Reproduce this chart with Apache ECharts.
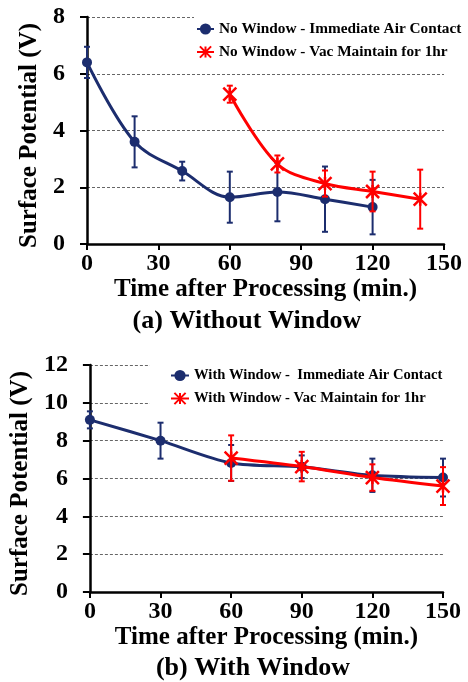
<!DOCTYPE html>
<html>
<head>
<meta charset="utf-8">
<script src="https://cdn.jsdelivr.net/npm/echarts@6/dist/echarts.min.js"></script>
<style>
html,body{margin:0;padding:0;background:#fff;}
#chart{width:468px;height:682px;}
</style>
</head>
<body>
<div id="chart"></div>
<script>
// ---- Data ----
const xTicks = [0, 30, 60, 90, 120, 150];
const topYTicks = [0, 2, 4, 6, 8];
const botYTicks = [0, 2, 4, 6, 8, 10, 12];

const topAirX = [0, 20, 40, 60, 80, 100, 120];
const topAirVals = [6.4, 3.6, 2.57, 1.65, 1.83, 1.58, 1.3];
const topAirErr = [0.55, 0.9, 0.33, 0.9, 1.03, 1.15, 0.96];

const topVacX = [60, 80, 100, 120, 140];
const topVacVals = [5.28, 2.82, 2.13, 1.85, 1.58];
const topVacErr = [0.3, 0.3, 0.46, 0.7, 1.04];

const botAirX = [0, 30, 60, 90, 120, 150];
const botAirVals = [9.1, 8.0, 6.82, 6.62, 6.17, 6.05];
const botAirErr = [0.45, 0.95, 0.95, 0.6, 0.88, 1.0];

const botVacX = [60, 90, 120, 150];
const botVacVals = [7.08, 6.63, 6.05, 5.6];
const botVacErr = [1.2, 0.78, 0.7, 1.0];

const names = {
  topAir: 'No Window - Immediate Air Contact',
  topVac: 'No Window - Vac Maintain for 1hr',
  botAir: 'With Window -  Immediate Air Contact',
  botVac: 'With Window - Vac Maintain for 1hr'
};

// ---- Styles ----
const NAVY = '#1c2d6e';
const RED = '#ff0000';
const FONT = '"Liberation Serif", "DejaVu Serif", serif';
const STAR = 'path://M0,0L10,10M10,0L0,10M5,0L5,10';

const pts = (xs, ys) => xs.map((x, i) => [x, ys[i]]);
const errs = (xs, ys, es) => xs.map((x, i) => [x, ys[i] - es[i], ys[i] + es[i]]);

function errRender(color) {
  return function (params, api) {
    const x = api.value(0);
    const lo = api.coord([x, api.value(1)]);
    const hi = api.coord([x, api.value(2)]);
    const cap = 3;
    const st = { stroke: color, lineWidth: 2 };
    return {
      type: 'group',
      children: [
        { type: 'line', shape: { x1: lo[0], y1: lo[1], x2: hi[0], y2: hi[1] }, style: st },
        { type: 'line', shape: { x1: lo[0] - cap, y1: lo[1], x2: lo[0] + cap, y2: lo[1] }, style: st },
        { type: 'line', shape: { x1: hi[0] - cap, y1: hi[1], x2: hi[0] + cap, y2: hi[1] }, style: st }
      ]
    };
  };
}

function xAxisCfg(gi) {
  return {
    type: 'value', gridIndex: gi, min: xTicks[0], max: xTicks[xTicks.length - 1],
    interval: xTicks[1] - xTicks[0],
    name: 'Time after Processing (min.)', nameLocation: 'middle', nameGap: 32,
    nameTextStyle: { fontFamily: FONT, fontWeight: 'bold', fontSize: 25, color: '#000' },
    axisLine: { lineStyle: { color: '#000', width: 2.5 } },
    axisTick: { show: true, length: 6, lineStyle: { color: '#000', width: 2 } },
    axisLabel: { fontFamily: FONT, fontWeight: 'bold', fontSize: 24, color: '#000', margin: 8 },
    splitLine: { show: false }
  };
}
function yAxisCfg(gi, ticks, gap) {
  return {
    type: 'value', gridIndex: gi, min: ticks[0], max: ticks[ticks.length - 1],
    interval: ticks[1] - ticks[0],
    name: 'Surface Potential (V)', nameLocation: 'middle', nameGap: gap,
    nameTextStyle: { fontFamily: FONT, fontWeight: 'bold', fontSize: 25, color: '#000', padding: [0, 10, 0, 0] },
    axisLine: { show: true, lineStyle: { color: '#000', width: 2.5 } },
    axisTick: { show: true, length: 7, lineStyle: { color: '#000', width: 2 } },
    axisLabel: { fontFamily: FONT, fontWeight: 'bold', fontSize: 24, color: '#000', margin: 22 },
    splitLine: { show: true, lineStyle: { color: '#666', width: 1, type: [3, 2] } }
  };
}

const legendTextTop = { fontFamily: FONT, fontWeight: 'bold', fontSize: 15.3, color: '#000', lineHeight: 15 };
const legendTextBot = { fontFamily: FONT, fontWeight: 'bold', fontSize: 14.6, color: '#000', lineHeight: 15 };

const option = {
  backgroundColor: '#fff',
  animation: false,
  grid: [
    { left: 87, top: 17, width: 357, height: 227 },
    { left: 85, top: 365, width: 358, height: 227 }
  ],
  xAxis: [xAxisCfg(0), xAxisCfg(1)],
  yAxis: [yAxisCfg(0, topYTicks, 43), yAxisCfg(1, botYTicks, 44)],
  legend: [
    {
      data: [names.topAir, names.topVac], orient: 'vertical', left: 194, top: 14,
      padding: [7.5, 6, 5, 2], itemGap: 8, itemWidth: 17, itemHeight: 14,
      backgroundColor: '#fff', textStyle: legendTextTop, z: 10
    },
    {
      data: [names.botAir, names.botVac], orient: 'vertical', left: 150, top: 364,
      padding: [4, 6, 5, 20], itemGap: 8, itemWidth: 18, itemHeight: 14,
      backgroundColor: '#fff', textStyle: legendTextBot, z: 10
    }
  ],
  graphic: [
    { type: 'text', x: 247, y: 321, style: { text: '(a) Without Window', font: 'bold 26px ' + FONT, fill: '#000', align: 'center', verticalAlign: 'middle' } },
    { type: 'text', x: 253, y: 668, style: { text: '(b) With Window', font: 'bold 26px ' + FONT, fill: '#000', align: 'center', verticalAlign: 'middle' } }
  ],
  series: [
    {
      name: names.topAir, type: 'line', xAxisIndex: 0, yAxisIndex: 0, data: pts(topAirX, topAirVals),
      smooth: 0.35, symbol: 'circle', symbolSize: 10,
      lineStyle: { color: NAVY, width: 3 }, itemStyle: { color: NAVY }, z: 3
    },
    {
      type: 'custom', xAxisIndex: 0, yAxisIndex: 0, data: errs(topAirX, topAirVals, topAirErr),
      renderItem: errRender(NAVY), encode: { x: 0, y: [1, 2] }, z: 3
    },
    {
      name: names.topVac, type: 'line', xAxisIndex: 0, yAxisIndex: 0, data: pts(topVacX, topVacVals),
      smooth: 0.35, symbol: STAR, symbolSize: 13,
      lineStyle: { color: RED, width: 3 }, itemStyle: { color: RED, borderColor: RED, borderWidth: 2.5 }, z: 4
    },
    {
      type: 'custom', xAxisIndex: 0, yAxisIndex: 0, data: errs(topVacX, topVacVals, topVacErr),
      renderItem: errRender(RED), encode: { x: 0, y: [1, 2] }, z: 4
    },
    {
      name: names.botAir, type: 'line', xAxisIndex: 1, yAxisIndex: 1, data: pts(botAirX, botAirVals),
      smooth: 0.3, symbol: 'circle', symbolSize: 10,
      lineStyle: { color: NAVY, width: 3 }, itemStyle: { color: NAVY }, z: 3
    },
    {
      type: 'custom', xAxisIndex: 1, yAxisIndex: 1, data: errs(botAirX, botAirVals, botAirErr),
      renderItem: errRender(NAVY), encode: { x: 0, y: [1, 2] }, z: 3
    },
    {
      name: names.botVac, type: 'line', xAxisIndex: 1, yAxisIndex: 1, data: pts(botVacX, botVacVals),
      smooth: 0.3, symbol: STAR, symbolSize: 13,
      lineStyle: { color: RED, width: 3 }, itemStyle: { color: RED, borderColor: RED, borderWidth: 2.5 }, z: 4
    },
    {
      type: 'custom', xAxisIndex: 1, yAxisIndex: 1, data: errs(botVacX, botVacVals, botVacErr),
      renderItem: errRender(RED), encode: { x: 0, y: [1, 2] }, z: 4
    }
  ]
};

const chart = echarts.init(document.getElementById('chart'), null, { renderer: 'canvas' });
chart.setOption(option);
</script>
</body>
</html>
